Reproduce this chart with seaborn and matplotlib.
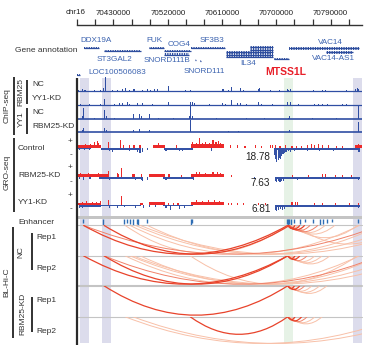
import numpy as np
import matplotlib.pyplot as plt
import seaborn as sns
from matplotlib.path import Path
from matplotlib.patches import PathPatch

sns.set_theme(style="white")
plt.rcParams["font.family"] = ["Liberation Sans", "DejaVu Sans"]

# ---------------- data (chr16, positions in kb) ----------------
view_kb = (70370, 70842)
ruler_ticks_kb = np.arange(70370, 70842, 30)
ruler_labels = ["70430000", "70520000", "70610000", "70700000", "70790000"]

# highlighted columns
band_start_kb = [70374.5, 70411.0, 70827.0, 70712.6]
band_end_kb = [70389.4, 70426.0, 70842.0, 70727.5]
band_is_target = [False, False, False, True]

# gene models, one entry per drawn isoform line
iso_start = [70381, 70414, 70489, 70514, 70514, 70558, 70616, 70616, 70616, 70657, 70657,
             70696, 70721, 70782, 70565, 70573, 70370]
iso_end = [70406, 70476, 70514, 70558, 70556, 70615, 70694, 70694, 70694, 70694, 70694,
           70721, 70837, 70827, 70566.5, 70574.5, 70374]
iso_row = [14, 17, 14, 17, 20.5, 14, 18.3, 20.5, 22.7, 13, 15.5, 25, 14.3, 18.3, 26, 27, 41]
gene_names = ["DDX19A", "ST3GAL2", "FUK", "COG4", "SF3B3", "SNORD111B", "SNORD111", "IL34",
              "VAC14", "VAC14-AS1", "LOC100506083", "MTSS1L"]
gene_label_kb = [70401, 70431, 70498, 70539, 70594, 70518, 70580, 70653, 70789, 70795, 70437, 70715]
gene_label_row = [7, 25.5, 7, 11, 7, 27, 37.5, 29.5, 8, 25, 39, 38]

# ChIP-seq signal (peak position kb, height)
chip_rbm25_nc_kb = [70372, 70379, 70382, 70384, 70398, 70409, 70414, 70416, 70429, 70437,
                    70445, 70450, 70456, 70464, 70478, 70486, 70492, 70498, 70503, 70521,
                    70550, 70558, 70611, 70613, 70621, 70626, 70640, 70646, 70670, 70672,
                    70690, 70706, 70718, 70720, 70724, 70762, 70776, 70781, 70817, 70831,
                    70834, 70837]
chip_rbm25_nc_val = [1, 2, 1.5, 1, 1, 1, 3, 15, 1, 1, 2, 3, 1.5, 2, 1, 2, 1.5, 2, 2, 5,
                     1, 1, 2, 2, 1.5, 4, 3, 1.5, 2, 3, 1, 1, 2, 1.5, 2, 1, 1, 1, 1, 2, 3, 2]
chip_rbm25_yy1kd_kb = [70376, 70390, 70408, 70415, 70431, 70440, 70445, 70454, 70456, 70470,
                       70478, 70495, 70521, 70558, 70561, 70564, 70589, 70611, 70615, 70626,
                       70635, 70640, 70651, 70671, 70675, 70693, 70718, 70723, 70736, 70764,
                       70770, 70776, 70784, 70809, 70817]
chip_rbm25_yy1kd_val = [1, 1, 1.5, 6, 1, 2, 2, 3, 1.5, 2, 2, 1.5, 3, 3, 3, 2, 1, 2, 1, 5,
                        2, 2, 1.5, 3, 1, 1, 3, 3, 1, 1, 1.5, 1.5, 1, 1.5, 1.5]
chip_yy1_nc_kb = [70379, 70380, 70398, 70415, 70418, 70432, 70463, 70473, 70476, 70489,
                  70505, 70530, 70556, 70558, 70561, 70600, 70650, 70680, 70720, 70722,
                  70760, 70800, 70837]
chip_yy1_nc_val = [3, 11, 1, 9, 3, 1, 5, 5, 3, 5, 1, 1, 3, 14, 3, 1, 1, 1, 1.5, 3.5, 1, 1, 13]
chip_yy1_rbm25kd_kb = [70378, 70380, 70415, 70418, 70463, 70473, 70489, 70557, 70558, 70621,
                       70638, 70722, 70837]
chip_yy1_rbm25kd_val = [2, 4, 4, 2, 2, 3, 2, 3, 12, 1, 1, 2, 10]

# GRO-seq: broad blocks (start kb, end kb, height) and single bins (kb, height)
ctrl_plus_blocks = [(70370, 70409, 3), (70495, 70515, 3), (70558, 70613, 4), (70830, 70842, 3)]
ctrl_plus_kb = [70384, 70392, 70399, 70403, 70405, 70422, 70442, 70447, 70457, 70464,
                70474, 70504, 70534, 70561, 70568, 70573, 70577, 70583, 70589, 70595,
                70600, 70604, 70608, 70613, 70624, 70635, 70648, 70665, 70676, 70691,
                70694, 70698, 70706, 70715, 70726, 70733, 70742, 70751, 70759, 70764,
                70770, 70776, 70787, 70800, 70809, 70836]
ctrl_plus_val = [4, 4, 6, 7, 5, 6, 8, 3, 3, 3, 3, 5, 3, 6, 5, 10, 5, 6, 5, 8,
                 6, 7, 5, 3, 3, 3, 2, 3, 2, 3, 3, 3, 2, 3, 2, 2, 2, 3, 4, 3, 4, 3, 3, 2, 2, 4]
ctrl_minus_blocks = [(70371, 70393, 1), (70409, 70476, 1.5), (70513, 70562, 1.5), (70697, 70838, 1.5)]
ctrl_minus_kb = [70374, 70382, 70390, 70423, 70429, 70437, 70456, 70464, 70470, 70474,
                 70478, 70487, 70517, 70529, 70540, 70545, 70556, 70593, 70697, 70699,
                 70701, 70703, 70705, 70707, 70709, 70711, 70713, 70716, 70720, 70724,
                 70730, 70740, 70752, 70760, 70772, 70785, 70795, 70810, 70822, 70837]
ctrl_minus_val = [2, 2, 2, 3, 4, 2, 3, 2, 4, 5, 4, 2, 3, 2, 3, 3, 2, 3, 7, 11,
                  14, 12, 10, 11, 8, 6, 5, 4, 3, 4, 3, 2, 3, 2, 3, 2, 3, 2, 2, 4]

rbkd_plus_blocks = [(70370, 70421, 3), (70461, 70466, 3), (70489, 70515, 3), (70558, 70613, 3)]
rbkd_plus_kb = [70375, 70388, 70398, 70405, 70422, 70436, 70439, 70444, 70477, 70504,
                70522, 70542, 70567, 70573, 70582, 70595, 70603, 70608, 70613, 70626,
                70727, 70754, 70776, 70781, 70798, 70809, 70825]
rbkd_plus_val = [4, 4, 3, 4, 6, 4, 3, 9, 3, 3, 3, 2, 5, 5, 4, 5, 5, 4, 3, 2, 2, 2, 3, 3, 2, 2, 2]
rbkd_minus_blocks = [(70406, 70476, 1.5), (70512, 70562, 1.5), (70697, 70838, 2)]
rbkd_minus_kb = [70374, 70380, 70391, 70411, 70424, 70433, 70441, 70449, 70466, 70476,
                 70478, 70486, 70517, 70532, 70548, 70562, 70664, 70698, 70700, 70703,
                 70706, 70709, 70712, 70720, 70735, 70748, 70765, 70790, 70815, 70836]
rbkd_minus_val = [1.5, 3, 2, 2, 3, 2, 2, 2, 3, 3, 4, 3, 3, 2, 2, 3, 2, 4, 5, 4,
                  5, 4, 4, 2, 3, 2, 2, 2, 2, 3]

yykd_plus_blocks = [(70370, 70407, 2), (70474, 70479, 2), (70489, 70515, 3), (70558, 70613, 3)]
yykd_plus_kb = [70378, 70386, 70395, 70402, 70408, 70422, 70444, 70521, 70529, 70537,
                70567, 70577, 70587, 70598, 70606, 70613, 70620, 70626, 70635, 70646,
                70670, 70682, 70726, 70731, 70735, 70764, 70776, 70798, 70822, 70836]
yykd_plus_val = [3, 4, 3, 3, 4, 5, 9, 2, 2, 2, 5, 4, 5, 5, 4, 2, 2, 2, 2, 2,
                 2, 2, 3, 3, 3, 2, 2, 2, 2, 2]
yykd_minus_blocks = [(70374, 70409, 2), (70409, 70476, 1.5), (70512, 70562, 1.5), (70697, 70838, 2)]
yykd_minus_kb = [70374, 70378, 70424, 70437, 70449, 70467, 70479, 70490, 70499, 70517,
                 70524, 70540, 70548, 70698, 70701, 70704, 70707, 70710, 70713, 70720,
                 70745, 70770, 70800, 70836]
yykd_minus_val = [3, 3, 3, 3, 2, 3, 3, 2, 2, 3, 5, 4, 3, 5, 6, 5, 4, 5, 4, 2, 2, 2, 2, 3]

gro_scale_labels = ["18.78", "7.63", "6.81"]

# enhancers (kb) and mark size
enh_kb = [70380, 70413, 70447, 70452, 70457, 70462, 70469, 70471, 70486, 70558,
          70560, 70717, 70719, 70721, 70724, 70730, 70739, 70747, 70761, 70772,
          70777, 70784, 70792, 70836]
enh_len = [4, 6, 5, 4, 5, 6, 5, 6, 4, 6, 4, 5, 6, 5, 6, 4, 5, 3, 4, 6, 5, 4, 3, 4]

# BL-Hi-C loops: (anchor1 kb, anchor2 kb, strength level 0=strong .. 2=weak)
hic_nc_rep1 = [(70380, 70719, 0), (70414, 70722, 0), (70380, 70872, 1),
               (70449, 70719, 2), (70457, 70838, 2), (70466, 70905, 2), (70474, 70938, 2),
               (70486, 70872, 2), (70719, 70731, 0), (70719, 70739, 0), (70720, 70747, 0),
               (70722, 70756, 1), (70722, 70769, 1), (70724, 70781, 2), (70726, 70797, 2),
               (70726, 70835, 2), (70731, 70905, 2)]
hic_nc_rep2 = [(70380, 70719, 0), (70414, 70719, 0), (70414, 70872, 1),
               (70449, 70838, 2), (70457, 70905, 2), (70462, 70938, 2), (70474, 70872, 2),
               (70557, 70835, 2), (70719, 70731, 0), (70719, 70739, 0), (70720, 70751, 1),
               (70722, 70764, 2), (70722, 70776, 2), (70724, 70789, 2)]
hic_kd_rep1 = [(70414, 70719, 0), (70719, 70730, 0), (70719, 70739, 0), (70720, 70747, 1),
               (70722, 70759, 2), (70722, 70772, 2), (70724, 70784, 2)]
hic_kd_rep2 = [(70557, 70719, 0), (70449, 70905, 2), (70462, 70938, 2),
               (70719, 70731, 0), (70719, 70742, 0), (70720, 70751, 1),
               (70722, 70764, 2), (70722, 70776, 2)]

# ---------------- styling ----------------
CHIP_BLUE = "#2f4ea3"
GRO_RED = "#ec2a2a"
GRO_BLUE = "#3452a6"
ENH_BLUE = "#2e6db4"
GENE_BLUE = "#2d4d9e"
GENE_TEXT = "#3d64b0"
SEP_GRAY = "#c4c4c4"
BAND_LAV = "#dcdcec"
BAND_GRN = "#e6f2e6"
TXT = "#333333"
plt.rcParams["hatch.color"] = GENE_BLUE
plt.rcParams["hatch.linewidth"] = 0.9

W, H = 373, 351
LEFT, RIGHT = 77.3, 362.0
fig = plt.figure(figsize=(W / 100, H / 100), dpi=100)


def bp(v):
    return np.asarray(v, dtype=float) * 1e3


def track(top, bottom):
    ax = fig.add_axes([LEFT / W, 1 - bottom / H, (RIGHT - LEFT) / W, (bottom - top) / H])
    ax.set_xlim(view_kb[0] * 1e3, view_kb[1] * 1e3)
    ax.set_facecolor("none")
    ax.axis("off")
    return ax


# shaded columns behind every track
ax_bg = track(78, 343)
for s, e, tgt in zip(band_start_kb, band_end_kb, band_is_target):
    ax_bg.axvspan(s * 1e3, e * 1e3, color=BAND_GRN if tgt else BAND_LAV, lw=0)

# ruler
ax_r = fig.add_axes([LEFT / W, 1 - 25 / H, (RIGHT - LEFT) / W, 20 / H])
ax_r.set_xlim(view_kb[0] * 1e3, view_kb[1] * 1e3)
ax_r.set_ylim(0, 1)
ax_r.set_facecolor("none")
sns.despine(ax=ax_r, left=True)
ax_r.spines["bottom"].set_color(TXT)
ax_r.spines["bottom"].set_linewidth(1.0)
ax_r.set_yticks([])
ax_r.set_xticks(bp(ruler_ticks_kb), labels=[])
ax_r.tick_params(axis="x", bottom=True, direction="in", length=4, width=0.9, color=TXT)
for lab in ruler_labels:
    ax_r.text(float(lab), 0.6, lab, ha="center", va="center", fontsize=5.8, color="#222222",
              transform=ax_r.get_xaxis_transform())

# genes: thin body line plus dense exon texture
ax_g = track(34, 80)
ax_g.set_ylim(46, 0)
ax_g.hlines(iso_row, bp(iso_start), bp(iso_end), color=GENE_BLUE, lw=0.9)
ax_g.barh(iso_row, bp(iso_end) - bp(iso_start), left=bp(iso_start), height=2.4,
          color="none", edgecolor=GENE_BLUE, lw=0, hatch="|||||||")
for name, x, r in zip(gene_names, gene_label_kb, gene_label_row):
    if name == "MTSS1L":
        ax_g.text(x * 1e3, r, name, ha="center", va="center", fontsize=7.5,
                  color="#e8202a", fontweight="bold")
    else:
        ax_g.text(x * 1e3, r, name, ha="center", va="center", fontsize=5.9, color=GENE_TEXT)

# ChIP-seq
chip_sets = [(chip_rbm25_nc_kb, chip_rbm25_nc_val), (chip_rbm25_yy1kd_kb, chip_rbm25_yy1kd_val),
             (chip_yy1_nc_kb, chip_yy1_nc_val), (chip_yy1_rbm25kd_kb, chip_yy1_rbm25kd_val)]
chip_base_px = [91.3, 105.3, 119.0, 132.3]
for i, ((pos, val), b) in enumerate(zip(chip_sets, chip_base_px)):
    ax = track(b - 14, b + 1.5)
    ax.set_ylim(-1.5, 14)
    ax.bar(bp(pos), val, width=1700, color=CHIP_BLUE, lw=0)
    ax.axhline(0, color=CHIP_BLUE, lw=0.9 if i < 2 else 1.2)

# GRO-seq
gro_sets = [
    (ctrl_plus_blocks, ctrl_plus_kb, ctrl_plus_val, ctrl_minus_blocks, ctrl_minus_kb, ctrl_minus_val),
    (rbkd_plus_blocks, rbkd_plus_kb, rbkd_plus_val, rbkd_minus_blocks, rbkd_minus_kb, rbkd_minus_val),
    (yykd_plus_blocks, yykd_plus_kb, yykd_plus_val, yykd_minus_blocks, yykd_minus_kb, yykd_minus_val),
]
gro_base_px = [148.5, 177.0, 205.0]
for (pb, pk, pv, mb, mk, mv), b in zip(gro_sets, gro_base_px):
    ax = track(b - 12, b + 15)
    ax.set_ylim(-15, 12)
    s, e, h = np.array(pb, dtype=float).T
    ax.bar(s * 1e3, h, width=(e - s) * 1e3, align="edge", color=GRO_RED, lw=0)
    ax.bar(bp(pk), pv, width=1800, color=GRO_RED, lw=0)
    s, e, h = np.array(mb, dtype=float).T
    ax.bar(s * 1e3, -h, width=(e - s) * 1e3, align="edge", color=GRO_BLUE, lw=0)
    ax.bar(bp(mk), -np.asarray(mv, dtype=float), width=1800, color=GRO_BLUE, lw=0)

# enhancers
ax_e = track(214, 227)
ax_e.set_ylim(-11, 2)
ax_e.axhspan(-2.7, 0, color=SEP_GRAY, lw=0)
ax_e.vlines(bp(enh_kb), -2.7 - np.asarray(enh_len, dtype=float), -2.7, color=ENH_BLUE, lw=1.0)

# BL-Hi-C arcs
hic_panels = [hic_nc_rep1, hic_nc_rep2, hic_kd_rep1, hic_kd_rep2]
hic_top_px = [225.3, 255.7, 285.7, 316.7]
hic_bottom_px = [255.7, 285.7, 316.7, 345.0]
hic_line_w = [0.8, 0.8, 1.5, 0.8]
arc_colors = sns.blend_palette(["#e8432b", "#f8c0a8"], 3)
for arcs, top, bot, lw in zip(hic_panels, hic_top_px, hic_bottom_px, hic_line_w):
    ax = track(top, bot)
    hp = bot - top
    ax.set_ylim(-hp, 0)
    ax.axhline(0, color=SEP_GRAY, lw=lw, clip_on=False, zorder=1)
    for s, e, lev in sorted(arcs, key=lambda a: -a[2]):
        depth = min(hp - 1.5, 0.0965 * (e - s) + 2)
        verts = [(s * 1e3, 0), ((s + e) / 2 * 1e3, -2 * depth), (e * 1e3, 0)]
        path = Path(verts, [Path.MOVETO, Path.CURVE3, Path.CURVE3])
        ax.add_patch(PathPatch(path, fc="none", ec=arc_colors[lev],
                               lw=0.9 if lev == 0 else 0.7, zorder=2))

# ---------------- labels and brackets (figure pixel space) ----------------
ax_t = fig.add_axes([0, 0, 1, 1])
ax_t.set_xlim(0, W)
ax_t.set_ylim(H, 0)
ax_t.axis("off")

ax_t.vlines([77], [78], [345], color="#2a2a2a", lw=1.6)
ax_t.vlines([14, 27, 27, 14, 13, 32, 32], [77, 80, 108, 138, 227, 233, 297],
            [135, 104, 134, 212, 338, 270, 332], color="#222222", lw=1.3)

ax_t.text(86, 13, "chr16", ha="right", va="center", fontsize=5.8, color="#222222")
ax_t.text(15, 50.5, "Gene annotation", ha="left", va="center", fontsize=6, color=TXT)

for x, y, s in [(7, 106, "ChIP-seq"), (21, 92, "RBM25"), (21, 119, "YY1"),
                (7, 172, "GRO-seq"), (7, 282, "BL-Hi-C"), (21, 252, "NC"),
                (23, 314, "RBM25-KD")]:
    ax_t.text(x, y, s, ha="center", va="center", rotation=90, fontsize=6, color=TXT)

for x, y, s in [(32, 85, "NC"), (32, 99, "YY1-KD"), (32, 112.5, "NC"), (32, 127, "RBM25-KD"),
                (18, 148, "Control"), (18, 175.5, "RBM25-KD"), (18, 203, "YY1-KD"),
                (18, 222, "Enhancer"), (36, 237.5, "Rep1"), (36, 268.5, "Rep2"),
                (36, 300.5, "Rep1"), (36, 331.5, "Rep2")]:
    ax_t.text(x, y, s, ha="left", va="center", fontsize=6, color=TXT)

for y in [142, 167.5, 195]:
    ax_t.text(70.5, y, "+", ha="center", va="center", fontsize=6, color=TXT)
for y in [154.5, 181.5, 208.5]:
    ax_t.text(71.5, y, "-", ha="center", va="center", fontsize=6, color=TXT)

for y, s in zip([157, 183, 209], gro_scale_labels):
    ax_t.text(270.5, y, s, ha="right", va="center", fontsize=7.2, color="#222222")

fig.savefig("out.png", dpi=100)
